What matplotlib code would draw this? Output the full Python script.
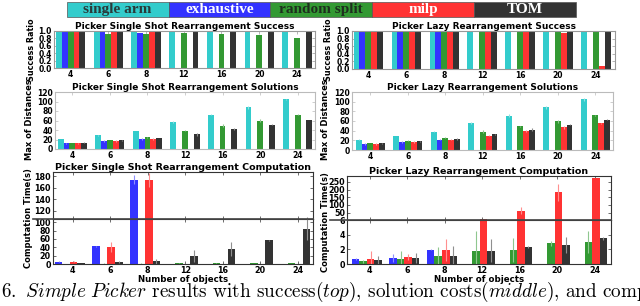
import numpy as np
import matplotlib
matplotlib.use("Agg")
import matplotlib.pyplot as plt
from matplotlib.patches import Rectangle
from matplotlib.lines import Line2D
from matplotlib.colors import to_rgb

nan = np.nan

objects = [4, 6, 8, 12, 16, 20, 24]
methods = ["single arm", "exhaustive", "random split", "milp", "TOM"]
method_colors = ["#33cccc", "#3333ff", "#339933", "#ff3333", "#333333"]
legend_text_colors = ["#2a3a3a", "white", "#1e2e1e", "white", "white"]

# success ratio (top row)
ss_succ_single = [1.0, 1.0, 1.0, 1.0, 1.0, 1.0, 1.0]
ss_succ_exh = [0.99, 0.98, 0.95, nan, nan, nan, nan]
ss_succ_rand = [0.98, 0.92, 0.91, 0.95, 0.92, 0.89, 0.82]
ss_succ_milp = [1.0, 0.99, 0.98, nan, nan, nan, nan]
ss_succ_tom = [1.0, 1.0, 1.0, 1.0, 1.0, 1.0, 1.0]

lz_succ_single = [1.0, 1.0, 1.0, 1.0, 1.0, 1.0, 1.0]
lz_succ_exh = [1.0, 1.0, 1.0, nan, nan, nan, nan]
lz_succ_rand = [1.0, 1.0, 1.0, 1.0, 1.0, 1.0, 1.0]
lz_succ_milp = [1.0, 1.0, 1.0, 1.0, 1.0, 0.95, 0.08]
lz_succ_tom = [1.0, 1.0, 1.0, 1.0, 1.0, 1.0, 1.0]

# max of distances (middle row)
ss_cost_single = [21.5, 29, 38, 56, 72, 88, 105]
ss_cost_exh = [12, 17, 21, nan, nan, nan, nan]
ss_cost_rand = [13, 19.5, 25, 38, 49, 60, 72]
ss_cost_milp = [12, 17, 21, nan, nan, nan, nan]
ss_cost_tom = [13, 18, 23, 31, 42, 51, 61]
ss_cost_single_err = [0.5, 1.5, 0.5, 2, 1, 3, 1]
ss_cost_exh_err = [1.5, 1.5, 1.5, nan, nan, nan, nan]
ss_cost_rand_err = [0.5, 0.5, 1, 1, 3, 3, 1]
ss_cost_milp_err = [1.5, 1.5, 1.5, nan, nan, nan, nan]
ss_cost_tom_err = [1, 1, 0.5, 3, 2, 1.5, 0.5]

lz_cost_single = [21.5, 29, 38, 56, 71, 88, 105]
lz_cost_exh = [12, 17, 21.5, nan, nan, nan, nan]
lz_cost_rand = [14, 19.5, 25, 38, 49, 59, 72]
lz_cost_milp = [12, 17, 21.5, 30, 39, 47, 55.5]
lz_cost_tom = [14, 18, 23.5, 33, 42, 52, 63]
lz_cost_single_err = [0.5, 1, 0.5, 1.5, 3, 3, 3]
lz_cost_exh_err = [1.5, 1.5, 1, nan, nan, nan, nan]
lz_cost_rand_err = [0.5, 1.5, 1, 3, 1, 3, 1]
lz_cost_milp_err = [1.5, 1.5, 1.5, 1.5, 1.5, 3, 1]
lz_cost_tom_err = [1, 1, 2, 1, 3, 1, 1.5]

# computation time (bottom row, no single arm)
ss_time_exh = [5.6, 42, 174, nan, nan, nan, nan]
ss_time_rand = [0.5, 1.0, 1.0, 1.5, 1.5, 2.0, 2.0]
ss_time_milp = [5.6, 40, 174, nan, nan, nan, nan]
ss_time_tom = [2.5, 5, 7, 19, 35, 57, 84]
ss_time_exh_err = [2, 1, 8, nan, nan, nan, nan]
ss_time_rand_err = [0.3, 0.3, 0.3, 0.5, 0.5, 0.5, 0.5]
ss_time_milp_err = [1, 12, 12, nan, nan, nan, nan]
ss_time_tom_err = [1, 3, 6, 14, 17, 1, 26]

lz_time_exh = [0.7, 0.82, 1.97, nan, nan, nan, nan]
lz_time_rand = [0.4, 0.73, 1.1, 1.74, 1.88, 2.8, 3.0]
lz_time_milp = [0.73, 0.92, 1.97, 9, 63, 182, 276]
lz_time_tom = [0.55, 0.82, 1.1, 1.83, 2.34, 2.6, 3.5]
lz_time_exh_err = [0.1, 0.6, 0.05, nan, nan, nan, nan]
lz_time_rand_err = [0.2, 1.0, 1.2, 2.7, 1.6, 0.3, 1.5]
lz_time_milp_err = [1.0, 0.4, 1.5, 0.5, 23, 55, 1]
lz_time_tom_err = [0.5, 0.7, 1.4, 1.6, 0.1, 1.1, 0.2]

FIG_W, FIG_H = 640, 306
TXT = dict(fontweight="bold", family="DejaVu Sans")


def _lighten(col, f=0.5):
    r, g, b = to_rgb(col)
    return (r + (1 - r) * f, g + (1 - g) * f, b + (1 - b) * f)


def _box(x0, y0, x1, y1):
    """pixel box (top-left origin) -> figure fraction rect"""
    return [x0 / FIG_W, 1 - y1 / FIG_H, (x1 - x0) / FIG_W, (y1 - y0) / FIG_H]


def _bars(ax, series, errs, cols, width, first):
    x = np.arange(len(objects))
    for i, (vals, col) in enumerate(zip(series, cols)):
        vals = np.array(vals, float)
        ok = ~np.isnan(vals)
        xs = x[ok] + first + i * width
        ax.bar(xs, vals[ok], width, color=col, linewidth=0, zorder=2)
        if errs is not None:
            err = np.array(errs[i], float)[ok]
            ax.errorbar(xs, vals[ok], yerr=err, fmt="none",
                        ecolor=_lighten(col, 0.45), elinewidth=0.8,
                        capsize=0, zorder=3)


def _style(ax, spine_col, fs=5.5):
    for s in ax.spines.values():
        s.set_color(spine_col)
        s.set_linewidth(0.8)
    ax.tick_params(axis="both", direction="in", length=2, width=0.5,
                   pad=1.5, labelsize=fs, top=True, right=True,
                   color=spine_col)
    for lab in ax.get_xticklabels() + ax.get_yticklabels():
        lab.set_fontweight("bold")


fig = plt.figure(figsize=(6.4, 3.06), dpi=100)

# ---------------------------------------------------------------- legend bar
seg_w = 101.8
for i, (name, col, tcol) in enumerate(zip(methods, method_colors, legend_text_colors)):
    x0 = 66.7 + i * seg_w
    fig.patches.append(Rectangle((x0 / FIG_W, 1 - 16.7 / FIG_H), seg_w / FIG_W,
                                 15 / FIG_H, transform=fig.transFigure,
                                 facecolor=col, edgecolor="#555555", linewidth=0.5))
    fig.text((x0 + seg_w / 2) / FIG_W, 1 - 9.5 / FIG_H, name, ha="center",
             va="center", color=tcol, fontsize=11, fontweight="bold",
             family="Liberation Serif")

five_cols = method_colors
four_cols = method_colors[1:]
w5 = 0.155
w4 = 0.2

# ---------------------------------------------------------------- top row
ax = fig.add_axes(_box(54, 31, 315, 68))
_bars(ax, [ss_succ_single, ss_succ_exh, ss_succ_rand, ss_succ_milp, ss_succ_tom],
      None, five_cols, w5, -2 * w5)
ax.set_ylim(0, 1.0)
ax.set_yticks(np.arange(0, 1.01, 0.2))
ax.set_xlim(-0.44, 6.48)
ax.set_xticks(range(len(objects)))
ax.set_xticklabels(objects)
ax.set_title("Picker Single Shot Rearrangement Success", fontsize=6.5, pad=1.5, **TXT)
_style(ax, "#999999")

ax = fig.add_axes(_box(352, 31, 615, 69))
_bars(ax, [lz_succ_single, lz_succ_exh, lz_succ_rand, lz_succ_milp, lz_succ_tom],
      None, five_cols, w5, -2 * w5)
ax.set_ylim(0, 1.0)
ax.set_yticks(np.arange(0, 1.01, 0.2))
ax.set_xlim(-0.43, 6.5)
ax.set_xticks(range(len(objects)))
ax.set_xticklabels(objects)
ax.set_title("Picker Lazy Rearrangement Success", fontsize=6.5, pad=1.5, **TXT)
_style(ax, "#999999")

fig.text(31 / FIG_W, 1 - 50 / FIG_H, "Success Ratio", rotation=90,
         ha="center", va="center", fontsize=5.8, **TXT)
fig.text(328.5 / FIG_W, 1 - 50 / FIG_H, "Success Ratio", rotation=90,
         ha="center", va="center", fontsize=5.8, **TXT)

# ---------------------------------------------------------------- middle row
ax = fig.add_axes(_box(55, 92, 315, 149))
_bars(ax, [ss_cost_single, ss_cost_exh, ss_cost_rand, ss_cost_milp, ss_cost_tom],
      [ss_cost_single_err, ss_cost_exh_err, ss_cost_rand_err, ss_cost_milp_err,
       ss_cost_tom_err], five_cols, w5, -2 * w5)
ax.set_ylim(0, 120)
ax.set_yticks(range(0, 121, 20))
ax.set_xlim(-0.46, 6.46)
ax.set_xticks(range(len(objects)))
ax.set_xticklabels(objects)
ax.set_title("Picker Single Shot Rearrangement Solutions", fontsize=6.5, pad=1.5, **TXT)
_style(ax, "#bbbbbb")

ax = fig.add_axes(_box(352, 92, 613, 150))
_bars(ax, [lz_cost_single, lz_cost_exh, lz_cost_rand, lz_cost_milp, lz_cost_tom],
      [lz_cost_single_err, lz_cost_exh_err, lz_cost_rand_err, lz_cost_milp_err,
       lz_cost_tom_err], five_cols, w5, -2 * w5)
ax.set_ylim(0, 120)
ax.set_yticks(range(0, 121, 20))
ax.set_xlim(-0.49, 6.47)
ax.set_xticks(range(len(objects)))
ax.set_xticklabels(objects)
ax.set_title("Picker Lazy Rearrangement Solutions", fontsize=6.5, pad=1.5, **TXT)
_style(ax, "#bbbbbb")

fig.text(30 / FIG_W, 1 - 120 / FIG_H, "Max of Distances", rotation=90,
         ha="center", va="center", fontsize=6, **TXT)
fig.text(326 / FIG_W, 1 - 120 / FIG_H, "Max of Distances", rotation=90,
         ha="center", va="center", fontsize=6, **TXT)


# ---------------------------------------------------------------- bottom row (broken axes)
def _broken(x0, x1, ytop, ybrk, ybot, series, errs, lims_hi, lims_lo,
            ticks_hi, ticks_lo, xlim, title, line_x0):
    hi = fig.add_axes(_box(x0, ytop, x1, ybrk))
    lo = fig.add_axes(_box(x0, ybrk, x1, ybot))
    for a in (hi, lo):
        _bars(a, series, errs, four_cols, w4, -0.37)
        a.set_xlim(*xlim)
        a.set_xticks(range(len(objects)))
    hi.set_ylim(*lims_hi)
    hi.set_yticks(ticks_hi)
    hi.set_xticklabels([])
    lo.set_ylim(*lims_lo)
    lo.set_yticks(ticks_lo)
    lo.set_xticklabels(objects)
    hi.set_title(title, fontsize=6.8, pad=1.5, **TXT)
    lo.set_xlabel("Number of objects", fontsize=6.2, labelpad=0, **TXT)
    _style(hi, "#333333", fs=5.8)
    _style(lo, "#333333", fs=5.8)
    fig.add_artist(Line2D([line_x0 / FIG_W, x1 / FIG_W],
                          [1 - ybrk / FIG_H, 1 - ybrk / FIG_H],
                          color="#444444", linewidth=1.2))


_broken(53, 313, 172, 218.5, 264,
        [ss_time_exh, ss_time_rand, ss_time_milp, ss_time_tom],
        [ss_time_exh_err, ss_time_rand_err, ss_time_milp_err, ss_time_tom_err],
        (107, 187), (0, 109), [120, 140, 160, 180], range(0, 101, 20),
        (-0.52, 6.4), "Picker Single Shot Rearrangement Computation", 33)

_broken(347, 611, 176, 220, 264,
        [lz_time_exh, lz_time_rand, lz_time_milp, lz_time_tom],
        [lz_time_exh_err, lz_time_rand_err, lz_time_milp_err, lz_time_tom_err],
        (2, 288), (0, 6), [50, 100, 150, 200, 250], [0, 2, 4, 6],
        (-0.6, 6.43), "Picker Lazy Rearrangement Computation", 330)

fig.text(28.5 / FIG_W, 1 - 218 / FIG_H, "Computation Time(s)", rotation=90,
         ha="center", va="center", fontsize=6, **TXT)
fig.text(326 / FIG_W, 1 - 222 / FIG_H, "Computation Time(s)", rotation=90,
         ha="center", va="center", fontsize=6, **TXT)

# ---------------------------------------------------------------- caption (cropped by the page edge)
plt.rcParams["mathtext.fontset"] = "cm"
fig.text(-40 / FIG_W, 1 - 297 / FIG_H,
         r"$\mathbf{Fig.\ 6.}$ $\mathit{Simple\ Picker}$ results with success$\mathit{(top)}$,"
         r" solution costs$\mathit{(middle)}$, and computation",
         ha="left", va="baseline", fontsize=13.8, family="cmr10")

fig.savefig("out.png", dpi=100)
